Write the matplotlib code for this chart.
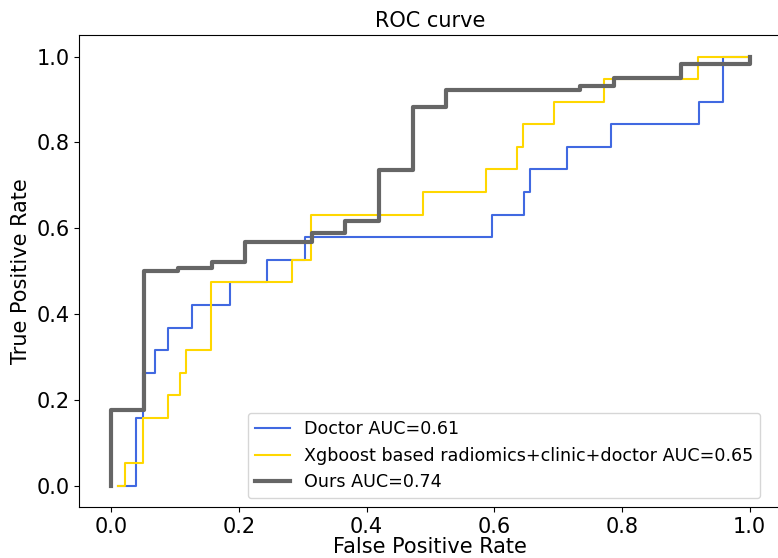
import matplotlib
matplotlib.use('Agg')
import matplotlib.pyplot as plt

# curvas ROC (pontos dos cantos de cada degrau)
fpr_doctor = [0.01, 0.039, 0.039, 0.049, 0.049, 0.069, 0.069, 0.089, 0.089, 0.126, 0.126,
              0.186, 0.186, 0.244, 0.244, 0.304, 0.304, 0.596, 0.596, 0.646, 0.646, 0.656,
              0.656, 0.714, 0.714, 0.783, 0.783, 0.92, 0.92, 0.958, 0.958, 1.0]
tpr_doctor = [0.0, 0.0, 0.158, 0.158, 0.263, 0.263, 0.316, 0.316, 0.368, 0.368, 0.421,
              0.421, 0.474, 0.474, 0.526, 0.526, 0.579, 0.579, 0.632, 0.632, 0.684, 0.684,
              0.737, 0.737, 0.789, 0.789, 0.842, 0.842, 0.895, 0.895, 1.0, 1.0]

fpr_xgb = [0.01, 0.022, 0.022, 0.049, 0.049, 0.089, 0.089, 0.108, 0.108, 0.117, 0.117,
           0.157, 0.157, 0.283, 0.283, 0.313, 0.313, 0.489, 0.489, 0.587, 0.587, 0.636,
           0.636, 0.645, 0.645, 0.694, 0.694, 0.772, 0.772, 0.919, 0.919, 1.0]
tpr_xgb = [0.0, 0.0, 0.053, 0.053, 0.158, 0.158, 0.211, 0.211, 0.263, 0.263, 0.316,
           0.316, 0.474, 0.474, 0.526, 0.526, 0.632, 0.632, 0.684, 0.684, 0.737, 0.737,
           0.789, 0.789, 0.842, 0.842, 0.895, 0.895, 0.947, 0.947, 1.0, 1.0]

fpr_ours = [0.0, 0.0, 0.052, 0.052, 0.105, 0.105, 0.158, 0.158, 0.21, 0.21, 0.315, 0.315,
            0.366, 0.366, 0.42, 0.42, 0.472, 0.472, 0.524, 0.524, 0.735, 0.735, 0.787,
            0.787, 0.892, 0.892, 1.0, 1.0]
tpr_ours = [0.0, 0.177, 0.177, 0.5, 0.5, 0.508, 0.508, 0.521, 0.521, 0.568, 0.568, 0.589,
            0.589, 0.617, 0.617, 0.735, 0.735, 0.882, 0.882, 0.922, 0.922, 0.931, 0.931,
            0.951, 0.951, 0.982, 0.982, 1.0]

rotulos = ['Doctor AUC=0.61',
           'Xgboost based radiomics+clinic+doctor AUC=0.65',
           'Ours AUC=0.74']

fig = plt.figure(figsize=(7.78, 5.58), dpi=100)
# eixo um pouco maior que a figura à direita (a original foi cortada)
ax = fig.add_axes([0.102, 0.091, 0.9025, 0.846])

ax.plot(fpr_doctor, tpr_doctor, color='#4169E1', lw=1.5, label=rotulos[0])
ax.plot(fpr_xgb, tpr_xgb, color='#FFD700', lw=1.5, label=rotulos[1])
ax.plot(fpr_ours, tpr_ours, color='#666666', lw=3, label=rotulos[2])

ax.set_xticks([0.0, 0.2, 0.4, 0.6, 0.8, 1.0])
ax.set_yticks([0.0, 0.2, 0.4, 0.6, 0.8, 1.0])
ax.tick_params(labelsize=15)
ax.set_xlabel('False Positive Rate', fontsize=15, labelpad=0)
ax.set_ylabel('True Positive Rate', fontsize=15)
ax.set_title('ROC curve', fontsize=15)
ax.legend(loc='lower right', bbox_to_anchor=(0.982, 0.0), fontsize=12.6)

fig.savefig('out.png', dpi=100)
